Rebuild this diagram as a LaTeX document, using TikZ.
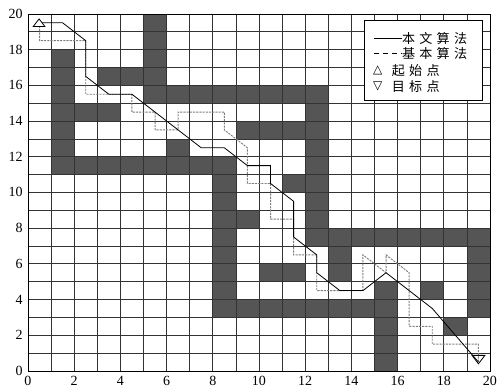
\documentclass[tikz,border=0pt]{standalone}
\usepackage{fontspec}
\setmainfont{Liberation Serif}
\newfontfamily\cjkfont{Noto Sans CJK SC}
\newfontfamily\symfont{DejaVu Sans}
\usepackage{tikz}
\usetikzlibrary{positioning}
\definecolor{cellgray}{RGB}{85,85,85}
\definecolor{pathgray}{RGB}{125,125,125}
\newcommand{\zg}{\hspace{3.2pt}}
\tikzset{
  gridline/.style={line width=0.5pt, color=black!80},
  obstacle/.style={fill=cellgray},
  ourpath/.style={line width=0.6pt, color=black, line join=miter},
  basepath/.style={line width=0.7pt, color=pathgray, dash pattern=on 1.6pt off 0.8pt},
  marker/.style={line width=0.6pt, draw=black, fill=white},
  ticklabel/.style={font=\fontsize{10.5}{10.5}\selectfont, inner sep=0pt},
  legendtext/.style={font=\cjkfont\fontsize{9.8}{11}\selectfont, inner sep=0pt, anchor=west},
  legendsym/.style={font=\symfont\fontsize{9}{10}\selectfont, inner sep=0pt}
}

\begin{document}
\begin{tikzpicture}[x=17.325pt, y=13.3875pt]
  \useasboundingbox (-1.212,-0.896) rectangle (20.39,20.78);

  % Obstacle cells (x1/y1/x2/y2)
  \foreach \a/\b/\c/\d in {1/11/2/18, 1/11/9/12, 8/3/9/12, 8/3/16/4, 15/0/16/5,
      2/14/4/15, 3/16/5/17, 5/15/6/20, 5/15/13/16, 12/7/13/16, 12/7/20/8,
      19/3/20/8, 9/13/12/14, 6/12/7/13, 11/10/12/11, 9/8/10/9, 10/5/12/6,
      13/5/14/7, 17/4/18/5, 18/2/19/3}
    \fill[obstacle] (\a,\b) rectangle (\c,\d);

  % Grid 20 x 20
  \draw[gridline, step={(1,1)}] (0,0) grid (20,20);
  \draw[line width=0.6pt] (0,0) rectangle (20,20);

  % Axis labels
  \foreach \i in {0,2,...,20} {
    \node[ticklabel, anchor=north] (xt\i) at (\i,-0.3) {\i};
    \node[ticklabel, anchor=east] (yt\i) at (-0.22,\i) {\i};
  }

  % Basic algorithm path
  \draw[basepath] (0.5,19.5) -- (0.5,18.5) -- (2.5,18.5) -- (2.5,15.5) -- (4.5,15.5)
    -- (4.5,14.5) -- (5.5,14.5) -- (5.5,13.5) -- (6.5,13.5) -- (6.5,14.5) -- (8.5,14.5)
    -- (8.5,13.5) -- (9.5,12.5) -- (9.5,10.5) -- (10.5,10.5) -- (10.5,8.5) -- (11.5,8.5)
    -- (11.5,6.5) -- (12.5,6.5) -- (12.5,4.5) -- (14.5,4.5) -- (14.5,6.5) -- (15.5,5.5)
    -- (15.5,6.5) -- (16.5,5.5) -- (16.5,2.5) -- (17.5,2.5) -- (17.5,1.5) -- (19.5,1.5)
    -- (19.5,0.5);

  % Proposed algorithm path
  \draw[ourpath] (0.5,19.5) -- (1.5,19.5) -- (2.5,18.5) -- (2.5,16.5) -- (3.5,15.5)
    -- (4.5,15.5) -- (7.5,12.5) -- (8.5,12.5) -- (9.5,11.5) -- (10.5,11.5) -- (10.5,10.5)
    -- (11.5,9.5) -- (11.5,7.5) -- (12.5,6.5) -- (12.5,5.5) -- (13.5,4.5) -- (14.5,4.5)
    -- (15.5,5.5) -- (17.5,3.5) -- (19.5,0.5);

  % Start and target markers
  \filldraw[marker] (0.23,19.3) -- (0.73,19.3) -- (0.48,19.72) -- cycle;
  \draw[marker, fill=none] (19.22,0.87) -- (19.78,0.87) -- (19.5,0.4) -- cycle;

  % Legend
  \draw[line width=0.6pt, fill=white] (14.56,15.14) rectangle (19.67,19.62);
  \draw[line width=0.6pt] (14.98,18.64) -- (16.18,18.64);
  \draw[line width=0.6pt, dash pattern=on 3.8pt off 2.9pt] (14.98,17.8) -- (16.18,17.8);
  \node[legendtext] (leg1) at (16.18,18.64) {本\zg 文\zg 算\zg 法};
  \node[legendtext] (leg2) at (16.18,17.8) {基\zg 本\zg 算\zg 法};
  \node[legendsym] (sym3) at (15.14,16.82) {△};
  \node[legendtext] (leg3) at (15.74,16.82) {起\zg 始\zg 点};
  \node[legendsym] (sym4) at (15.14,15.92) {▽};
  \node[legendtext] (leg4) at (15.74,15.92) {目\zg 标\zg 点};
\end{tikzpicture}
\end{document}
